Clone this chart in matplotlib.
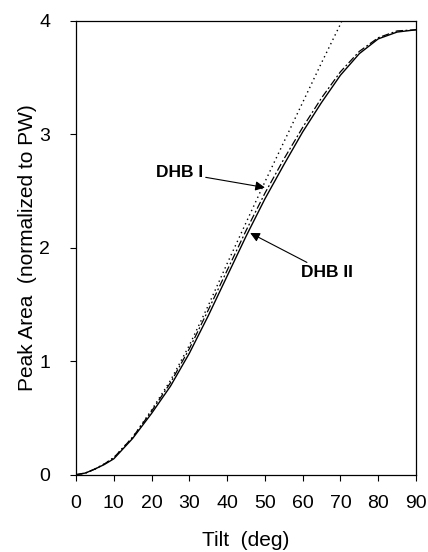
import matplotlib
matplotlib.use("Agg")
import matplotlib.pyplot as plt

plt.rcParams['font.family'] = ['Liberation Sans', 'DejaVu Sans']

# tilt angle (deg)
tilt = [0, 2.5, 5, 7.5, 10, 15, 20, 25, 30, 35, 40, 45, 50, 55, 60, 65, 70, 75, 80, 85, 90]

# DHB II (solid)
dhb2 = [0.0, 0.015, 0.05, 0.09, 0.14, 0.32, 0.54, 0.78, 1.07, 1.40, 1.75, 2.10, 2.43, 2.73,
        3.02, 3.28, 3.52, 3.71, 3.84, 3.90, 3.92]

# DHB I (dash-dot)
dhb1 = [0.0, 0.015, 0.05, 0.095, 0.15, 0.33, 0.56, 0.81, 1.11, 1.45, 1.80, 2.15, 2.48, 2.78,
        3.06, 3.32, 3.55, 3.73, 3.85, 3.91, 3.92]

# dotted curve (no saturation)
tilt_dot = [0, 2.5, 5, 7.5, 10, 15, 20, 25, 30, 35, 40, 45, 50, 55, 60, 65, 70, 72]
dotted = [0.0, 0.015, 0.05, 0.095, 0.15, 0.33, 0.57, 0.83, 1.14, 1.49, 1.86, 2.22, 2.58, 2.93,
          3.28, 3.63, 3.97, 4.12]

fig = plt.figure(figsize=(4.28, 5.52), dpi=100)
ax = fig.add_axes([0.1776, 0.140, 0.7944, 0.8225])

ax.plot(tilt, dhb2, color='k', lw=1.0, ls='-')
ax.plot(tilt, dhb1, color='k', lw=0.9, ls=(0, (6, 2, 1.5, 2)))
ax.plot(tilt_dot, dotted, color='k', lw=1.0, ls=(0, (1, 2.5)))

ax.set_xlim(0, 90)
ax.set_ylim(0, 4)
ax.set_xticks(range(0, 91, 10))
ax.set_yticks([0, 1, 2, 3, 4])
ax.tick_params(direction='out', length=4.5, width=0.8, labelsize=14)
ax.tick_params(axis='y', pad=14)
ax.tick_params(axis='x', pad=10)
for s in ax.spines.values():
    s.set_linewidth(0.9)

ax.set_xlabel("Tilt  (deg)", fontsize=15, labelpad=14)
ax.set_ylabel("Peak Area  (normalized to PW)", fontsize=15, labelpad=2)

arrow = dict(arrowstyle='-|>', color='k', lw=0.8, mutation_scale=14, shrinkA=0, shrinkB=0)
ax.annotate("DHB I", xy=(50.0, 2.53), xytext=(33.6, 2.66), fontsize=12.5, fontweight='bold',
            ha='right', va='center', arrowprops=arrow)
ax.annotate("DHB II", xy=(46.1, 2.13), xytext=(59.5, 1.78), fontsize=12.5, fontweight='bold',
            ha='left', va='center', arrowprops=arrow)

fig.savefig("out.png", dpi=100)
